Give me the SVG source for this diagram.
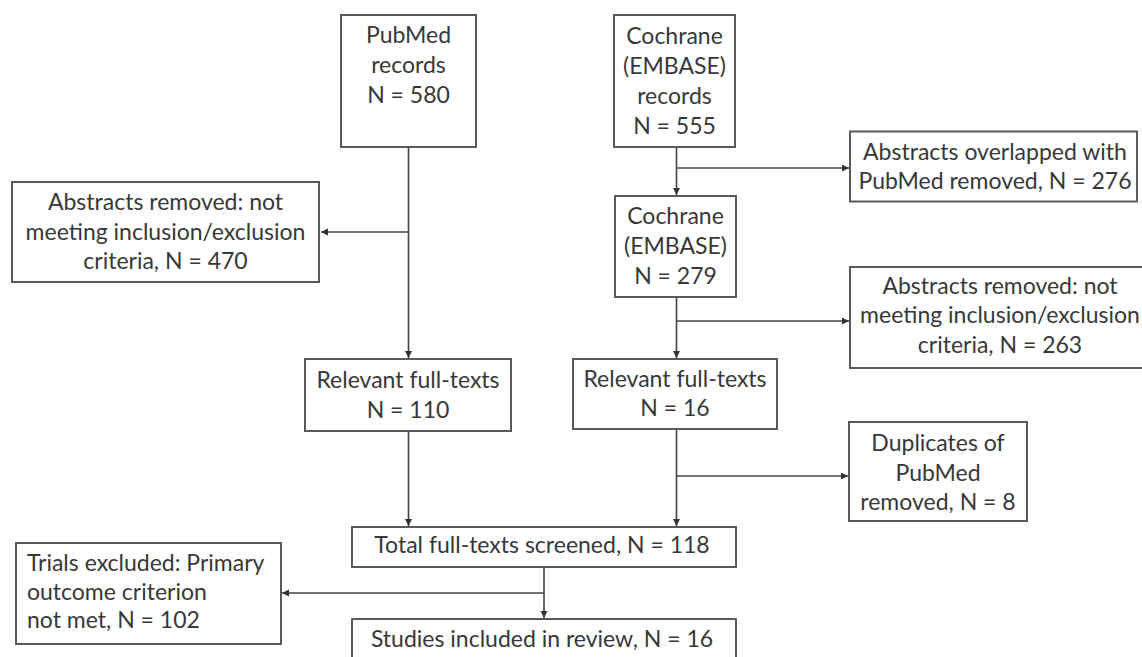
<svg xmlns="http://www.w3.org/2000/svg" width="1142" height="657" viewBox="0 0 1142 657">
<style>
.box{fill:#fff;stroke:#5a5a5a;stroke-width:2}
.t{font-family:Lato,"Open Sans","Liberation Sans",sans-serif;font-size:23px;fill:#383838;text-anchor:middle}
.tl{text-anchor:start}
.c{fill:none;stroke:#454545;stroke-width:1.6}
</style>
<defs>
<marker id="ah" markerUnits="userSpaceOnUse" markerWidth="8" markerHeight="8" refX="7" refY="3.5" orient="auto">
<path d="M0,0 L7,3.5 L0,7 z" fill="#333"/>
</marker>
</defs>
<rect width="1142" height="657" fill="#fff"/>
<g id="connectors">
<path class="c" d="M408.5 147 V358" marker-end="url(#ah)"/>
<path class="c" d="M408.5 232 H321" marker-end="url(#ah)"/>
<path class="c" d="M676.5 147 V195" marker-end="url(#ah)"/>
<path class="c" d="M676.5 168 H849" marker-end="url(#ah)"/>
<path class="c" d="M676.5 297 V358" marker-end="url(#ah)"/>
<path class="c" d="M676.5 321 H849" marker-end="url(#ah)"/>
<path class="c" d="M408.5 431 V526" marker-end="url(#ah)"/>
<path class="c" d="M676.5 429 V526" marker-end="url(#ah)"/>
<path class="c" d="M676.5 476 H848" marker-end="url(#ah)"/>
<path class="c" d="M544 567 V618" marker-end="url(#ah)"/>
<path class="c" d="M544 593 H282" marker-end="url(#ah)"/>
</g>
<g id="pubmed">
<rect class="box" x="341" y="15" width="135" height="132"/>
<text class="t" x="408.5" y="43">PubMed</text>
<text class="t" x="408.5" y="73">records</text>
<text class="t" x="408.5" y="103">N = 580</text>
</g>
<g id="cochrane1">
<rect class="box" x="614" y="15" width="121" height="132"/>
<text class="t" x="674.5" y="44">Cochrane</text>
<text class="t" x="674.5" y="74">(EMBASE)</text>
<text class="t" x="674.5" y="104">records</text>
<text class="t" x="674.5" y="134">N = 555</text>
</g>
<g id="overlap">
<rect class="box" x="850" y="131.5" width="287" height="70"/>
<text class="t" x="995" y="160">Abstracts overlapped with</text>
<text class="t" x="995" y="189">PubMed removed, N = 276</text>
</g>
<g id="abstracts-left">
<rect class="box" x="12" y="182" width="307" height="100"/>
<text class="t" x="165.5" y="210">Abstracts removed: not</text>
<text class="t" x="165.5" y="239.5">meeting inclusion/exclusion</text>
<text class="t" x="165.5" y="269">criteria, N = 470</text>
</g>
<g id="cochrane2">
<rect class="box" x="615" y="196" width="121" height="101"/>
<text class="t" x="675.5" y="224">Cochrane</text>
<text class="t" x="675.5" y="254">(EMBASE)</text>
<text class="t" x="675.5" y="284">N = 279</text>
</g>
<g id="abstracts-right">
<rect class="box" x="850" y="267" width="302" height="101"/>
<text class="t" x="1000" y="294">Abstracts removed: not</text>
<text class="t" x="1000" y="323">meeting inclusion/exclusion</text>
<text class="t" x="1000" y="353">criteria, N = 263</text>
</g>
<g id="relevant-pubmed">
<rect class="box" x="305" y="359" width="206" height="72"/>
<text class="t" x="408" y="388">Relevant full-texts</text>
<text class="t" x="408" y="418">N = 110</text>
</g>
<g id="relevant-cochrane">
<rect class="box" x="573" y="359" width="204" height="70"/>
<text class="t" x="675" y="387">Relevant full-texts</text>
<text class="t" x="675" y="416">N = 16</text>
</g>
<g id="duplicates">
<rect class="box" x="849" y="422" width="178" height="99"/>
<text class="t" x="938" y="451">Duplicates of</text>
<text class="t" x="938" y="481">PubMed</text>
<text class="t" x="938" y="510">removed, N = 8</text>
</g>
<g id="total">
<rect class="box" x="352" y="527" width="384" height="40"/>
<text class="t" x="542" y="553">Total full-texts screened, N = 118</text>
</g>
<g id="trials">
<rect class="box" x="16" y="543" width="265" height="101"/>
<text class="t tl" x="27" y="571">Trials excluded: Primary</text>
<text class="t tl" x="27" y="600">outcome criterion</text>
<text class="t tl" x="27" y="628">not met, N = 102</text>
</g>
<g id="studies">
<rect class="box" x="352" y="619" width="384" height="60"/>
<text class="t" x="542" y="647">Studies included in review, N = 16</text>
</g>
</svg>
